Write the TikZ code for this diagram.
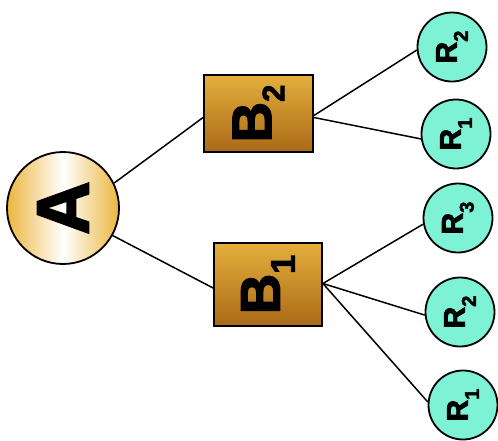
\documentclass[tikz,border=0pt]{standalone}
\usepackage{fontspec}
\setmainfont{Liberation Sans}[BoldFeatures={FakeBold=2.5}]
\usepackage{graphicx}
\definecolor{gold1}{RGB}{228,175,60}
\definecolor{gold2}{RGB}{170,105,22}
\definecolor{aqua}{RGB}{125,242,212}
\definecolor{ayel}{RGB}{236,182,62}
\newcommand{\lab}[5]{\rotatebox{90}{\fontsize{#2}{#2}\selectfont\bfseries #1\raisebox{#4}{\fontsize{#3}{#3}\selectfont #5}}}
\begin{document}
\begin{tikzpicture}[x=1pt,y=-1pt,
  conn/.style={line width=1.5pt,black},
  rnode/.style={circle,draw=black,line width=1.8pt,fill=aqua,minimum size=69pt,inner sep=0pt},
  bnode/.style={rectangle,draw=black,line width=1.8pt,top color=gold1,bottom color=gold2,inner sep=0pt},
  anode/.style={circle,draw=black,line width=1.8pt,left color=ayel,right color=ayel,middle color=white,minimum size=112pt,inner sep=0pt}]
\useasboundingbox (0,0) rectangle (498,440);
\node[anode] (A) at (63,208) {\rotatebox{90}{\fontsize{74}{74}\selectfont\bfseries A}};
\node[bnode,minimum width=109pt,minimum height=77pt] (B2) at (258.5,113.5) {\lab{B}{56}{31}{-13pt}{2}};
\node[bnode,minimum width=108pt,minimum height=83pt] (B1) at (268,284.5) {\lab{B}{56}{34}{-15pt}{1}};
\node[rnode] (R2a) at (452,47) {\lab{R}{30}{20}{-11pt}{2}};
\node[rnode] (R1a) at (456,134) {\lab{R}{30}{20}{-11pt}{1}};
\node[rnode] (R3b) at (458,218) {\lab{R}{30}{20}{-11pt}{3}};
\node[rnode] (R2b) at (460,312) {\lab{R}{30}{20}{-11pt}{2}};
\node[rnode] (R1b) at (463,405) {\lab{R}{30}{20}{-11pt}{1}};
\draw[conn] (A.26) -- ([yshift=-4pt]B2.west);
\draw[conn] (A.-29) -- ([yshift=-3.5pt]B1.west);
\draw[conn] ([yshift=-2pt]B2.east) -- (R2a.185);
\draw[conn] ([yshift=-4pt]B2.east) -- (R1a.188);
\draw[conn] ([yshift=1pt]B1.east) -- (R3b.190);
\draw[conn] ([yshift=1pt]B1.east) -- (R2b.185);
\draw[conn] ([yshift=1pt]B1.east) -- (R1b.175);
\end{tikzpicture}
\end{document}
